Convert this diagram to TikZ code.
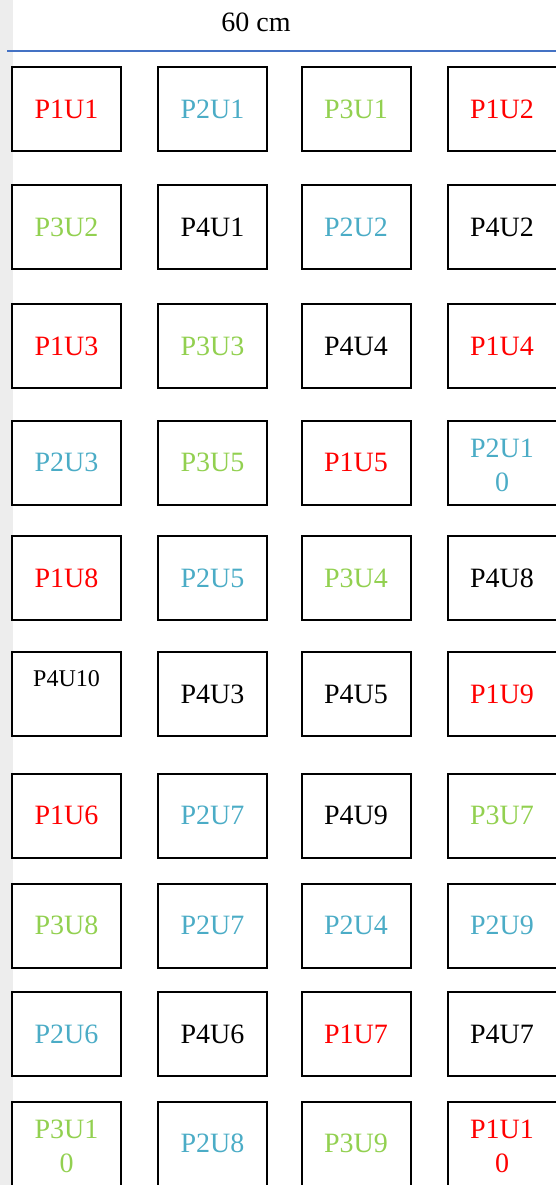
\documentclass[tikz,border=0pt]{standalone}
\usepackage{fontspec}
\setmainfont{Liberation Serif}
\usetikzlibrary{positioning}
\definecolor{pred}{RGB}{255,0,0}
\definecolor{pblue}{RGB}{75,172,198}
\definecolor{pgreen}{RGB}{146,208,80}
\definecolor{rulecol}{RGB}{68,114,196}
\begin{document}
\begin{tikzpicture}[x=0.75pt,y=-0.75pt,
        plotbox/.style = {
            draw,
            line width = 1.5pt,
            minimum width = 81.75pt,
            minimum height = 63pt,
            inner sep = 0pt,
            align = center,
            font = \fontsize{21}{24.75}\selectfont
        },
        wraptext/.style = {
            align = center,
            inner sep = 0pt,
            yshift = -2.5pt,
            font = \fontsize{21}{25.5}\selectfont
        },
        grpa/.style = {plotbox, text = pred},
        grpb/.style = {plotbox, text = pblue},
        grpc/.style = {plotbox, text = pgreen},
        grpd/.style = {plotbox, text = black}
    ]
    \useasboundingbox (0,0) rectangle (556,1185);
    \fill[gray!14] (0,0) rectangle (13,1185);
    \node[font = \fontsize{21}{24.75}\selectfont] (width) at (256,22) {60 cm};
    \coordinate (ruleL) at (7,51);
    \coordinate (ruleR) at (556,51);
    \draw[rulecol, line width = 1.1pt] (ruleL) -- (ruleR);
    \node[grpa] (r1c1) at (66.5,109) {P1U1};
    \node[grpb] (r1c2) at (212.5,109) {P2U1};
    \node[grpc] (r1c3) at (356,109) {P3U1};
    \node[grpa] (r1c4) at (502,109) {P1U2};
    \node[grpc] (r2c1) at (66.5,227) {P3U2};
    \node[grpd] (r2c2) at (212.5,227) {P4U1};
    \node[grpb] (r2c3) at (356,227) {P2U2};
    \node[grpd] (r2c4) at (502,227) {P4U2};
    \node[grpa] (r3c1) at (66.5,346) {P1U3};
    \node[grpc] (r3c2) at (212.5,346) {P3U3};
    \node[grpd] (r3c3) at (356,346) {P4U4};
    \node[grpa] (r3c4) at (502,346) {P1U4};
    \node[grpb] (r4c1) at (66.5,462.5) {P2U3};
    \node[grpc] (r4c2) at (212.5,462.5) {P3U5};
    \node[grpa] (r4c3) at (356,462.5) {P1U5};
    \node[grpb] (r4c4) at (502,462.5) {};
    \node[wraptext, text = pblue] (r4c4txt) at (r4c4.center) {P2U1\\0};
    \node[grpa] (r5c1) at (66.5,578) {P1U8};
    \node[grpb] (r5c2) at (212.5,578) {P2U5};
    \node[grpc] (r5c3) at (356,578) {P3U4};
    \node[grpd] (r5c4) at (502,578) {P4U8};
    \node[grpd] (r6c1) at (66.5,694) {};
    \node[font = \fontsize{18}{21}\selectfont, below = 11pt of r6c1.north] (r6c1txt) {P4U10};
    \node[grpd] (r6c2) at (212.5,694) {P4U3};
    \node[grpd] (r6c3) at (356,694) {P4U5};
    \node[grpa] (r6c4) at (502,694) {P1U9};
    \node[grpa] (r7c1) at (66.5,815.5) {P1U6};
    \node[grpb] (r7c2) at (212.5,815.5) {P2U7};
    \node[grpd] (r7c3) at (356,815.5) {P4U9};
    \node[grpc] (r7c4) at (502,815.5) {P3U7};
    \node[grpc] (r8c1) at (66.5,925.5) {P3U8};
    \node[grpb] (r8c2) at (212.5,925.5) {P2U7};
    \node[grpb] (r8c3) at (356,925.5) {P2U4};
    \node[grpb] (r8c4) at (502,925.5) {P2U9};
    \node[grpb] (r9c1) at (66.5,1034) {P2U6};
    \node[grpd] (r9c2) at (212.5,1034) {P4U6};
    \node[grpa] (r9c3) at (356,1034) {P1U7};
    \node[grpd] (r9c4) at (502,1034) {P4U7};
    \node[grpc] (r10c1) at (66.5,1143.5) {};
    \node[wraptext, text = pgreen] (r10c1txt) at (r10c1.center) {P3U1\\0};
    \node[grpb] (r10c2) at (212.5,1143.5) {P2U8};
    \node[grpc] (r10c3) at (356,1143.5) {P3U9};
    \node[grpa] (r10c4) at (502,1143.5) {};
    \node[wraptext, text = pred] (r10c4txt) at (r10c4.center) {P1U1\\0};
\end{tikzpicture}
\end{document}
